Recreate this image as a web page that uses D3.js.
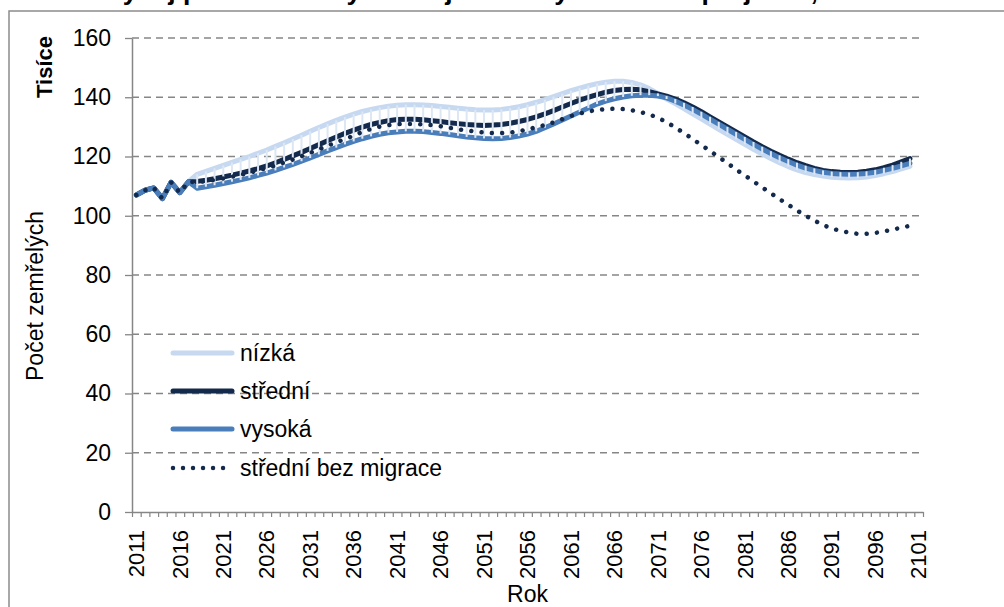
<!DOCTYPE html>
<html><head><meta charset="utf-8">
<script src="https://cdn.jsdelivr.net/npm/d3@7"></script>
<style>
body{margin:0;background:#fff;}
text{font-family:"Liberation Sans",Arial,sans-serif;fill:#000;}
</style>
</head><body>
<svg id="c" width="1004" height="607"></svg>
<script>
// ---------- DATA ----------
const firstYear = 2011, lastYear = 2101;          // category axis
const historyValues = [107.0, 108.6, 109.4, 105.8, 111.3, 107.8, 111.5]; // 2011-2017
const projectionStart = 2018;                       // projections 2018-2100
const nizka = [
114.0,115.0,116.0,117.0,118.0,119.0,120.0,121.1,122.2,123.4,
124.6,125.9,127.2,128.5,129.8,131.0,132.2,133.3,134.3,135.2,
135.9,136.5,137.0,137.3,137.5,137.5,137.4,137.2,136.9,136.6,
136.3,136.0,135.8,135.7,135.7,135.9,136.3,136.8,137.5,138.3,
139.2,140.2,141.2,142.2,143.1,143.9,144.6,145.1,145.4,145.4,
145.0,144.2,142.9,141.3,139.4,137.9,136.2,134.4,132.7,130.9,
129.2,127.5,125.8,124.1,122.4,120.8,119.3,117.9,116.6,115.5,
114.6,113.9,113.4,113.0,112.8,112.7,112.8,113.1,113.6,114.2,
114.9,115.8,116.7];
const stredni = [
111.6,112.0,112.5,113.1,113.7,114.4,115.1,115.9,116.8,117.9,
119.0,120.2,121.4,122.7,124.0,125.3,126.6,127.8,128.9,129.9,
130.8,131.5,132.1,132.5,132.6,132.6,132.4,132.1,131.8,131.4,
131.1,130.8,130.6,130.5,130.6,130.8,131.2,131.8,132.5,133.4,
134.4,135.5,136.7,137.9,139.0,140.0,140.9,141.7,142.3,142.6,
142.7,142.5,141.9,141.1,140.4,139.4,138.1,136.7,135.1,133.4,
131.7,130.0,128.3,126.6,124.9,123.3,121.8,120.4,119.1,117.9,
116.9,116.0,115.3,114.9,114.7,114.6,114.7,115.0,115.5,116.2,
117.1,118.2,119.3];
const vysoka = [
109.3,109.8,110.3,110.9,111.5,112.1,112.8,113.6,114.4,115.3,
116.3,117.3,118.4,119.5,120.7,121.9,123.0,124.1,125.1,126.0,
126.8,127.5,128.0,128.3,128.5,128.5,128.4,128.1,127.8,127.4,
127.0,126.6,126.3,126.1,126.0,126.1,126.4,126.9,127.6,128.5,
129.7,131.0,132.3,133.7,135.0,136.4,137.7,138.7,139.5,140.1,
140.5,140.7,140.7,140.4,139.8,138.7,137.4,135.9,134.3,132.6,
130.9,129.2,127.5,125.8,124.1,122.5,121.0,119.6,118.3,117.1,
116.1,115.3,114.7,114.3,114.1,114.0,114.1,114.3,114.7,115.3,
116.0,116.8,117.7];
const bezMigrace = [
111.3,111.7,112.1,112.6,113.2,113.8,114.5,115.3,116.1,117.0,
118.0,119.0,120.1,121.2,122.4,123.6,124.8,125.9,127.0,128.3,
129.3,130.1,130.6,130.9,131.0,131.0,130.8,130.6,130.2,129.7,
129.2,128.8,128.4,128.1,127.9,127.9,128.1,128.5,129.1,129.9,
130.6,131.5,132.6,133.7,134.5,135.2,135.7,136.0,136.1,136.0,
135.6,135.0,134.2,133.1,131.6,129.8,127.9,125.9,123.9,121.9,
119.8,117.8,115.6,113.6,111.6,109.6,107.6,105.6,103.7,101.8,
100.0,98.4,96.9,95.7,94.9,94.3,93.9,93.9,94.2,94.7,
95.3,96.0,96.6];
const yTicks = [0,20,40,60,80,100,120,140,160];
const xLabelYears = [2011,2016,2021,2026,2031,2036,2041,2046,2051,2056,2061,2066,2071,2076,2081,2086,2091,2096,2101];
const seriesNames = ["nízká","střední","vysoká","střední bez migrace"];
const seriesColors = ["#c6d9f1","#142a4c","#4a7ebb","#142a4c"];

// ---------- SETUP ----------
const svg = d3.select("#c");
const L = 132, R = 923, T = 38, B = 512;
const categories = d3.range(firstYear, lastYear + 1);
const x = d3.scaleBand().domain(categories).range([L, R]).padding(0);
const cx = yr => x(yr) + x.bandwidth() / 2;
const xEdge = d3.scaleLinear().domain([firstYear - 0.5, lastYear + 0.5]).range([L, R]);
const y = d3.scaleLinear().domain([0, 160]).range([B, T]);
const gray = "#868686";

svg.append("rect").attr("width",1004).attr("height",607).attr("fill","#fff");
// chart frame
svg.append("rect").attr("x",9).attr("y",11).attr("width",1010).attr("height",620)
  .attr("fill","none").attr("stroke","#8c8c8c").attr("stroke-width",1.5);

// title (cropped by the top edge, as in the reference)
svg.append("text").attr("x",105).attr("y",0)
  .attr("font-size",26.5).attr("font-weight","bold")
  .text("Vývoj počtu zemřelých dle jednotlivých variant projekce, 2011–2101");

// gridlines
svg.append("g").selectAll("line").data(yTicks.filter(d => d > 0)).join("line")
  .attr("x1", L).attr("x2", R).attr("y1", d => y(d)).attr("y2", d => y(d))
  .attr("stroke", gray).attr("stroke-width", 1.3).attr("stroke-dasharray", "7,5");

// y axis
const yAx = svg.append("g").attr("transform", `translate(${L},0)`)
  .call(d3.axisLeft(y).tickValues(yTicks).tickSize(7).tickSizeOuter(0).tickPadding(14));
yAx.select(".domain").attr("stroke", gray).attr("stroke-width", 1.5);
yAx.selectAll(".tick line").attr("stroke", gray).attr("stroke-width", 1.3);
yAx.selectAll(".tick text").attr("font-size", 23).attr("font-family", "Liberation Sans, Arial, sans-serif").attr("fill","#000");

// x axis ticks (between categories)
const xAx = svg.append("g").attr("transform", `translate(0,${B})`)
  .call(d3.axisBottom(xEdge).tickValues(d3.range(firstYear - 0.5, lastYear + 1, 1)).tickFormat("").tickSize(5).tickSizeOuter(0));
xAx.select(".domain").attr("stroke", gray).attr("stroke-width", 1.5);
xAx.selectAll(".tick line").attr("stroke", gray).attr("stroke-width", 1.2);

// x labels
const xLab = svg.append("g").attr("transform", `translate(0,${B})`)
  .call(d3.axisBottom(x).tickValues(xLabelYears).tickSize(0));
xLab.select(".domain").remove();
xLab.selectAll(".tick text")
  .attr("font-size", 22).attr("font-family", "Liberation Sans, Arial, sans-serif").attr("fill","#000")
  .attr("transform", "rotate(-90)").attr("text-anchor", "end")
  .attr("x", -18).attr("y", 0).attr("dy", "0.35em");

// axis titles
svg.append("text").attr("x", (L + R) / 2).attr("y", 602).attr("text-anchor","middle")
  .attr("font-size", 23).text("Rok");
svg.append("text").attr("transform","translate(43,296) rotate(-90)").attr("text-anchor","middle")
  .attr("font-size", 23).text("Počet zemřelých");
svg.append("text").attr("transform","translate(52,67) rotate(-90)").attr("text-anchor","middle")
  .attr("font-size", 22).attr("font-weight","bold").text("Tisíce");

// ---------- SERIES ----------
const histYears = historyValues.map((v, i) => firstYear + i);
function build(proj) {
  const pts = historyValues.map((v, i) => ({yr: histYears[i], v}));
  proj.forEach((v, i) => pts.push({yr: projectionStart + i, v}));
  return pts;
}
const series = [nizka, stredni, vysoka, bezMigrace].map(build);
const line = d3.line().x(d => cx(d.yr)).y(d => y(d.v));

const gLines = svg.append("g");
[0,1,2].forEach(i => {
  gLines.append("path").datum(series[i]).attr("d", line)
    .attr("fill","none").attr("stroke", seriesColors[i]).attr("stroke-width", 5)
    .attr("stroke-linejoin","round").attr("stroke-linecap","round");
});

// high-low lines
const hl = nizka.map((v, i) => ({yr: projectionStart + i,
  hi: Math.max(v, stredni[i], vysoka[i]), lo: Math.min(v, stredni[i], vysoka[i])}));
svg.append("g").selectAll("line").data(hl).join("line")
  .attr("x1", d => cx(d.yr)).attr("x2", d => cx(d.yr))
  .attr("y1", d => y(d.hi)).attr("y2", d => y(d.lo))
  .attr("stroke", "#dde7f3").attr("stroke-width", 2);

// no-migration dotted
svg.append("path").datum(series[3]).attr("d", line)
  .attr("fill","none").attr("stroke", seriesColors[3]).attr("stroke-width", 4.5)
  .attr("stroke-linecap","round").attr("stroke-dasharray","0.01,10.3");

// ---------- LEGEND ----------
const legY = [353, 391, 429, 468];
const leg = svg.append("g");
seriesNames.forEach((name, i) => {
  const l = leg.append("line").attr("x1", 173).attr("x2", i === 3 ? 224 : 232)
    .attr("y1", legY[i]).attr("y2", legY[i])
    .attr("stroke", seriesColors[i]).attr("stroke-linecap","round");
  if (i === 3) l.attr("stroke-width", 4.5).attr("stroke-dasharray","0.01,10");
  else l.attr("stroke-width", 5);
  leg.append("text").attr("x", 240).attr("y", legY[i]).attr("dy","0.35em")
    .attr("font-size", 23).text(name);
});
</script>
</body></html>
